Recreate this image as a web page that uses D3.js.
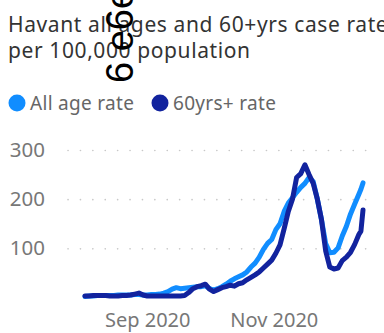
<!DOCTYPE html>
<html>
<head>
<meta charset="utf-8">
<script src="https://cdn.jsdelivr.net/npm/d3@7"></script>
<style>
  html, body { margin: 0; padding: 0; background: #fff; }
  svg { display: block; font-family: "Noto Sans", "Open Sans", sans-serif; }
</style>
</head>
<body>
<svg id="chart" width="384" height="333"></svg>
<script>
// Reporting dates (every second day) and the two case rates per 100,000
const dates = [
  "2020-08-02","2020-08-04","2020-08-06","2020-08-08","2020-08-10","2020-08-12","2020-08-14","2020-08-16",
  "2020-08-18","2020-08-20","2020-08-22","2020-08-24","2020-08-26","2020-08-28","2020-08-30","2020-09-01",
  "2020-09-03","2020-09-05","2020-09-07","2020-09-09","2020-09-11","2020-09-13","2020-09-15","2020-09-17",
  "2020-09-19","2020-09-21","2020-09-23","2020-09-25","2020-09-27","2020-09-29","2020-10-01","2020-10-03",
  "2020-10-05","2020-10-07","2020-10-09","2020-10-11","2020-10-13","2020-10-15","2020-10-17","2020-10-19",
  "2020-10-21","2020-10-23","2020-10-25","2020-10-27","2020-10-29","2020-10-31","2020-11-02","2020-11-04",
  "2020-11-06","2020-11-08","2020-11-10","2020-11-12","2020-11-14","2020-11-16","2020-11-18","2020-11-20",
  "2020-11-22","2020-11-24","2020-11-26","2020-11-28","2020-11-30","2020-12-02","2020-12-04","2020-12-06",
  "2020-12-08","2020-12-10","2020-12-12","2020-12-13","2020-12-14"
];
const allAgeRate = [
  2, 3, 3, 4, 4, 4, 4, 4,
  5, 5, 5, 5, 6, 6, 5, 5,
  6, 6, 7, 9, 12, 17, 20, 18,
  19, 20, 21, 22, 22, 24, 18, 15,
  18, 22, 27, 33, 38, 42, 46, 52,
  62, 70, 82, 98, 110, 118, 138, 150,
  175, 192, 203, 214, 224, 232, 244, 236,
  200, 158, 110, 91, 92, 101, 125, 145,
  170, 190, 210, 220, 233
];
const over60Rate = [
  3, 3, 4, 4, 4, 4, 3, 3,
  3, 4, 4, 5, 7, 9, 5, 3,
  3, 3, 3, 3, 3, 3, 3, 3,
  4, 10, 18, 22, 24, 27, 17, 12,
  16, 20, 22, 25, 23, 28, 30, 36,
  41, 46, 52, 60, 68, 76, 90, 107,
  140, 175, 200, 244, 252, 270, 250, 232,
  200, 158, 95, 62, 58, 60, 75, 82,
  92, 108, 128, 135, 178
];
const yTicks = [100, 200, 300];
const xTickDates = ["2020-09-01", "2020-11-01"];
const seriesNames = ["All age rate", "60yrs+ rate"];
const seriesColors = ["#118DFF", "#12239E"];

const parse = d3.timeParse("%Y-%m-%d");
const svg = d3.select("#chart");

// Title (clipped by the right edge of the visual)
const title = svg.append("text").attr("fill", "#333").attr("font-size", 21).attr("letter-spacing", 0.6);
title.append("tspan").attr("x", 8).attr("y", 32).text("Havant all ages and 60+yrs case rate");
title.append("tspan").attr("x", 8).attr("y", 58).text("per 100,000 population");

// Legend
const legend = svg.append("g").attr("font-size", 19).attr("letter-spacing", 0.3).attr("fill", "#666");
const legendX = [17, 160];
seriesNames.forEach((name, i) => {
  legend.append("circle").attr("cx", legendX[i]).attr("cy", 103).attr("r", 8.5).attr("fill", seriesColors[i]);
  legend.append("text").attr("x", legendX[i] + 13).attr("y", 110).text(name);
});

// Scales
const x = d3.scaleTime()
  .domain(d3.extent(dates, parse))
  .range([85, 363]);
const y = d3.scaleLinear().domain([0, 300]).range([297.5, 150]);

// Y axis with dotted gridlines
const gridLeft = 68, gridRight = 376;
const yAxis = svg.append("g")
  .attr("transform", `translate(${gridLeft},0)`)
  .call(d3.axisLeft(y).tickValues(yTicks).tickSizeInner(-(gridRight - gridLeft)).tickSizeOuter(0).tickPadding(23));
yAxis.select(".domain").remove();
yAxis.selectAll(".tick line")
  .attr("stroke", "#c8c8c8").attr("stroke-width", 1.6)
  .attr("stroke-dasharray", "0.1,12.3").attr("stroke-linecap", "round");
yAxis.selectAll(".tick text")
  .attr("fill", "#777").attr("font-size", 20.5).attr("font-family", "Noto Sans, sans-serif");

// X axis
const xAxis = svg.append("g")
  .attr("transform", "translate(0,300)")
  .call(d3.axisBottom(x).tickValues(xTickDates.map(parse)).tickFormat(d3.timeFormat("%b %Y")).tickSize(0).tickPadding(13));
xAxis.select(".domain").remove();
xAxis.selectAll(".tick text")
  .attr("fill", "#777").attr("font-size", 20).attr("font-family", "Noto Sans, sans-serif");

// Lines: all ages first, 60+ on top
const line = d3.line()
  .x((d, i) => x(parse(dates[i])))
  .y(d => y(d));
[allAgeRate, over60Rate].forEach((values, i) => {
  svg.append("path")
    .attr("d", line(values))
    .attr("fill", "none")
    .attr("stroke", seriesColors[i])
    .attr("stroke-width", 5)
    .attr("stroke-linejoin", "round")
    .attr("stroke-linecap", "round");
});

// Stray rotated label over the title
svg.append("text")
  .attr("transform", "translate(133,83) rotate(-90)")
  .attr("font-size", 38)
  .attr("font-family", "Liberation Sans, sans-serif")
  .attr("fill", "#000")
  .text("6 e6e");
</script>
</body>
</html>
